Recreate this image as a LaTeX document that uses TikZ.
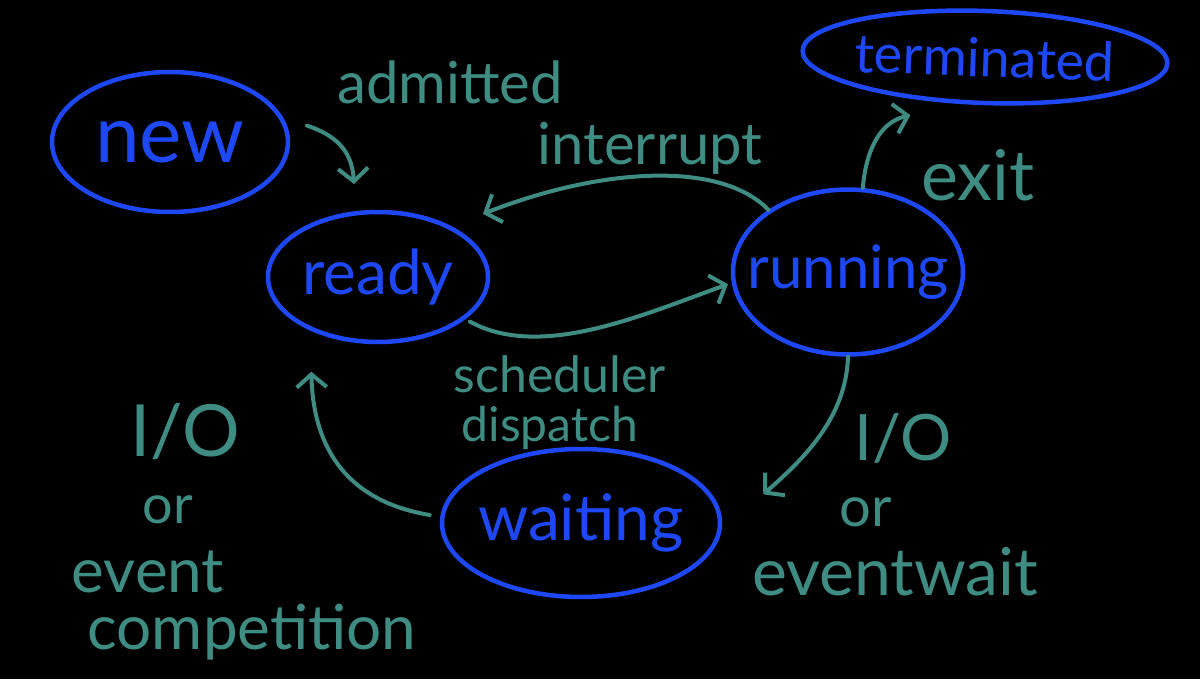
\documentclass[tikz,border=0pt]{standalone}
\usepackage{fontspec}
\setmainfont{Lato}
\usetikzlibrary{shapes.geometric,arrows.meta}
\definecolor{inkblue}{HTML}{1E48F5}
\definecolor{inkteal}{HTML}{3F8C82}
\tikzset{
  stateov/.style={draw=inkblue, line width=4.5pt, ellipse, inner sep=0pt, text=inkblue},
  flow/.style={draw=inkteal, line width=4pt, line cap=round, -{Straight Barb[length=13pt,width=30pt]}},
  lbl/.style={text=inkteal, inner sep=0pt}
}
\newcommand{\fs}[1]{\fontsize{#1}{#1}\selectfont}
\newcommand{\zw}[1]{\makebox[0pt]{#1}}
\begin{document}
\begin{tikzpicture}[x=1pt,y=-1pt]
\fill[black] (0,0) rectangle (1200,679);
\useasboundingbox (0,0) rectangle (1200,679);

% states
\node[stateov, minimum width=236pt, minimum height=140pt, font=\fs{80}] (new) at (170,142) {\zw{new}};
\node[stateov, minimum width=365pt, minimum height=92pt, font=\fs{54}, rotate=-2] (term) at (985,57) {\zw{terminated}};
\node[stateov, minimum width=220pt, minimum height=130pt, font=\fs{62}] (ready) at (378,277) {\zw{ready}};
\node[stateov, minimum width=230pt, minimum height=165pt, font=\fs{60}] (run) at (848,272) {\zw{running}};
\node[stateov, minimum width=278pt, minimum height=148pt, font=\fs{64}] (wait) at (581,523) {\zw{waiting}};

% labels
\node[lbl, font=\fs{58}] (ladm) at (450,82) {admitted};
\node[lbl, font=\fs{58}] (lint) at (650,148) {interrupt};
\node[lbl, font=\fs{70}] (lexit) at (978,175) {exit};
\node[lbl, font=\fs{50}] (lsch) at (560,374) {scheduler};
\node[lbl, font=\fs{48}] (ldis) at (550,428) {dispatch};
\node[lbl, font=\fs{72}] (lio1) at (185,432) {I/O};
\node[lbl, font=\fs{54}] (lor1) at (168,510) {or};
\node[lbl, font=\fs{62}] (lev1) at (148,572) {event};
\node[lbl, font=\fs{62}] (lcomp) at (252,632) {competition};
\node[lbl, font=\fs{64}] (lio2) at (903,438) {I/O};
\node[lbl, font=\fs{56}] (lor2) at (866,512) {or};
\node[lbl, font=\fs{66}] (lev2) at (895,572) {eventwait};

% connectors
\coordinate (admEnd) at (354,184);
\draw[flow] ([xshift=18pt,yshift=6pt]new.5) .. controls (335,135) and (352,150) .. (admEnd);
\draw[flow] (run.142) .. controls (720,160) and (600,168) .. ([xshift=32pt,yshift=12pt]ready.35);
\draw[flow] ([xshift=8pt]ready.-28) .. controls (540,360) and (640,316) .. ([xshift=-4pt]run.186);
\draw[flow] (run.80) .. controls (866,150) and (880,122) .. ([xshift=-73pt,yshift=-10pt]term.south);
\draw[flow] (run.270) .. controls (846,420) and (800,462) .. ([xshift=48pt,yshift=5pt]wait.10);
\draw[flow] ([xshift=-10pt,yshift=8pt]wait.180) .. controls (340,500) and (313,440) .. ([xshift=-9pt,yshift=-37pt]ready.225);
\end{tikzpicture}
\end{document}
